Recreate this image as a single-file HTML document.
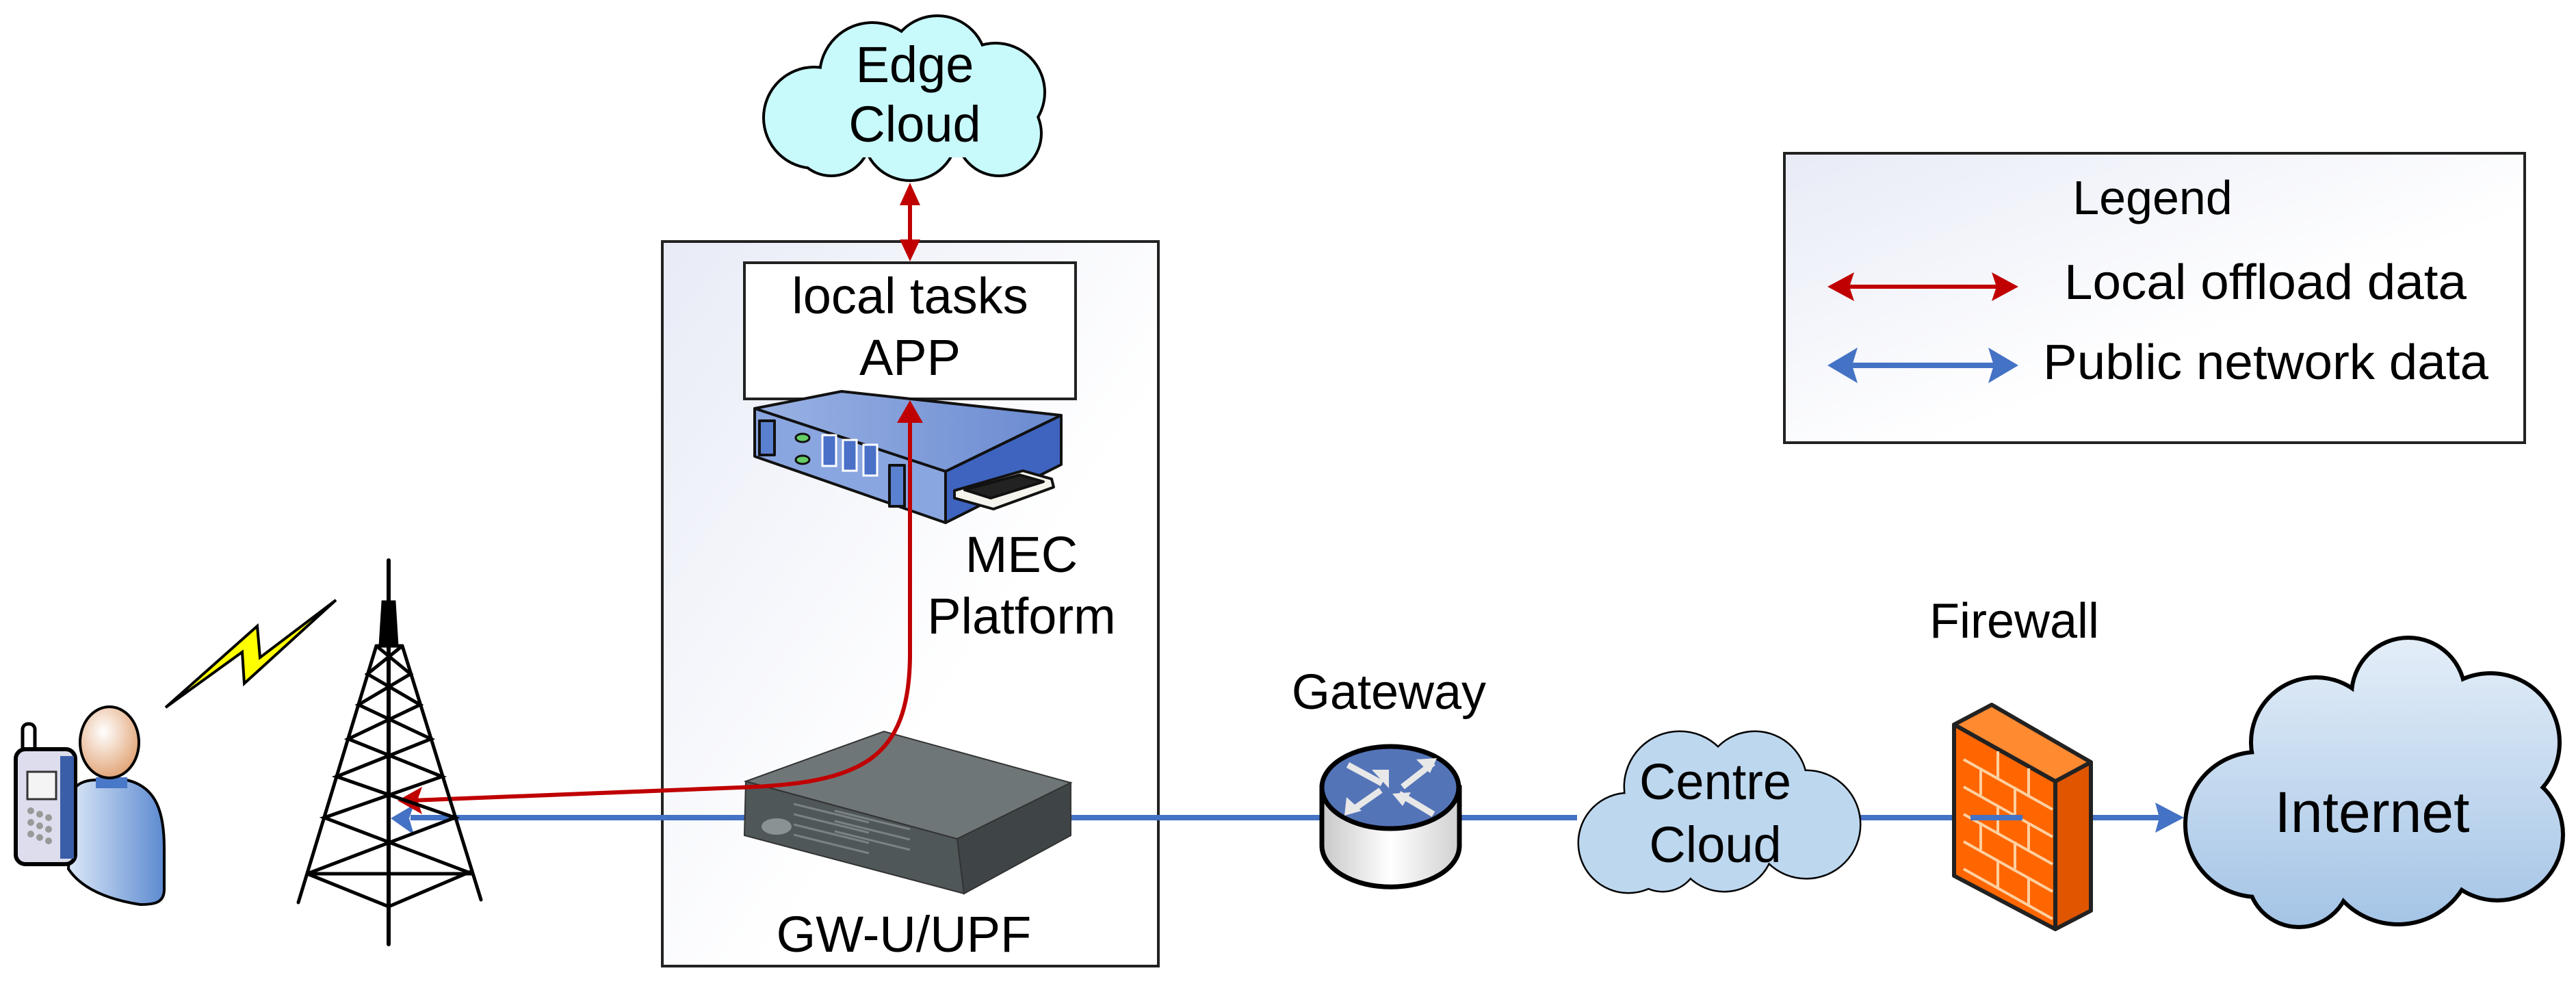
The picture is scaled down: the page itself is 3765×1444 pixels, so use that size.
<!DOCTYPE html>
<html><head><meta charset="utf-8"><style>html,body{margin:0;padding:0;background:#fff}svg{display:block}</style></head>
<body>
<svg width="3765" height="1444" viewBox="0 0 3765 1444" xmlns="http://www.w3.org/2000/svg" font-family="Liberation Sans, Arial, sans-serif">
<defs>
<linearGradient id="bg" x1="0" y1="0" x2="1" y2="1"><stop offset="0" stop-color="#e8ebf6"/><stop offset="0.6" stop-color="#ffffff"/></linearGradient>
<linearGradient id="cyl" x1="0" y1="0" x2="1" y2="0"><stop offset="0" stop-color="#c8c8c8"/><stop offset="0.5" stop-color="#ffffff"/><stop offset="1" stop-color="#d0d0d0"/></linearGradient>
<linearGradient id="inet" gradientUnits="userSpaceOnUse" x1="0" y1="930" x2="0" y2="1354"><stop offset="0" stop-color="#e4eef8"/><stop offset="1" stop-color="#a4c4e6"/></linearGradient>
<linearGradient id="body" x1="0" y1="0" x2="1" y2="0"><stop offset="0" stop-color="#dce8f8"/><stop offset="1" stop-color="#5c8ad0"/></linearGradient>
<radialGradient id="head" cx="0.4" cy="0.35" r="0.7"><stop offset="0" stop-color="#ffffff"/><stop offset="1" stop-color="#e0a070"/></radialGradient>
<linearGradient id="mtop" x1="0" y1="0" x2="1" y2="0"><stop offset="0" stop-color="#9ab2e4"/><stop offset="1" stop-color="#6a8ad0"/></linearGradient>
</defs>

<rect x="968" y="353" width="725" height="1059" fill="url(#bg)" stroke="#222" stroke-width="4"/>
<rect x="2608" y="224" width="1082" height="423" fill="url(#bg)" stroke="#222" stroke-width="4"/>
<text x="3146" y="313" font-size="70" text-anchor="middle">Legend</text>
<line x1="2700" y1="419" x2="2922" y2="419" stroke="#c00000" stroke-width="6"/>
<polygon points="2671,419 2710,398 2703,419 2710,440" fill="#c00000"/>
<polygon points="2950,419 2911,398 2918,419 2911,440" fill="#c00000"/>
<text x="3017" y="437" font-size="72" textLength="588" lengthAdjust="spacingAndGlyphs">Local offload data</text>
<line x1="2700" y1="534" x2="2922" y2="534" stroke="#4472c4" stroke-width="8"/>
<polygon points="2671,534 2715,508 2707,534 2715,560" fill="#4472c4"/>
<polygon points="2950,534 2906,508 2914,534 2906,560" fill="#4472c4"/>
<text x="2986" y="554" font-size="72" textLength="651" lengthAdjust="spacingAndGlyphs">Public network data</text>

<g stroke="#000" stroke-width="8" fill="#c8fafc">
<circle cx="1190" cy="172" r="72"/><circle cx="1275" cy="110" r="75"/><circle cx="1370" cy="95" r="70"/><circle cx="1455" cy="135" r="70"/><circle cx="1460" cy="195" r="60"/><circle cx="1330" cy="195" r="67"/><circle cx="1215" cy="200" r="55"/>
</g>
<g fill="#c8fafc">
<circle cx="1190" cy="172" r="72"/><circle cx="1275" cy="110" r="75"/><circle cx="1370" cy="95" r="70"/><circle cx="1455" cy="135" r="70"/><circle cx="1460" cy="195" r="60"/><circle cx="1330" cy="195" r="67"/><circle cx="1215" cy="200" r="55"/><rect x="1200" y="110" width="260" height="120"/>
</g>
<text x="1337" y="120" font-size="74" text-anchor="middle">Edge</text>
<text x="1337" y="207" font-size="74" text-anchor="middle">Cloud</text>
<line x1="1330" y1="295" x2="1330" y2="355" stroke="#c00000" stroke-width="6"/>
<polygon points="1330,267 1315,300 1345,300" fill="#c00000"/>
<polygon points="1330,382 1315,350 1345,350" fill="#c00000"/>

<rect x="1088" y="384" width="484" height="199" fill="#fff" stroke="#222" stroke-width="4"/>
<text x="1330" y="458" font-size="74" text-anchor="middle">local tasks</text>
<text x="1330" y="548" font-size="74" text-anchor="middle">APP</text>

<g stroke="#111" stroke-width="4" stroke-linejoin="round">
<polygon points="1103,597 1230,572 1551,607 1382,689" fill="url(#mtop)"/>
<polygon points="1103,597 1382,689 1382,764 1103,667" fill="#8aa6e0"/>
<polygon points="1382,689 1551,607 1551,679 1382,764" fill="#3e64c0"/>
<polygon points="1395,717 1495,688 1537,700 1540,712 1452,744 1395,728" fill="#f4f4ec"/>
<polygon points="1410,716 1490,694 1525,704 1448,728" fill="#222"/>
<rect x="1110" y="615" width="22" height="50" fill="#5a80d0"/>
<rect x="1300" y="680" width="22" height="60" fill="#5a80d0"/>
</g>
<g fill="#4a70c8" stroke="#fff" stroke-width="3">
<rect x="1202" y="636" width="20" height="45"/><rect x="1232" y="643" width="20" height="45"/><rect x="1262" y="650" width="20" height="45"/>
</g>
<ellipse cx="1173" cy="640" rx="10" ry="6" fill="#6c6" stroke="#111" stroke-width="3"/>
<ellipse cx="1173" cy="672" rx="10" ry="6" fill="#6c6" stroke="#111" stroke-width="3"/>

<text x="1493" y="836" font-size="74" text-anchor="middle">MEC</text>
<text x="1493" y="926" font-size="74" text-anchor="middle">Platform</text>

<g stroke="#4472c4" stroke-width="8">
<line x1="600" y1="1195" x2="1930" y2="1195"/>
<line x1="2132" y1="1195" x2="2305" y2="1195"/>
<line x1="2715" y1="1195" x2="2956" y2="1195"/>
<line x1="3056" y1="1195" x2="3160" y2="1195"/>
</g>
<polygon points="571,1196 605,1176 598,1196 605,1220" fill="#4472c4"/>
<polygon points="3192,1195 3150,1173 3156,1195 3150,1217" fill="#4472c4"/>

<g stroke="#333" stroke-width="2">
<polygon points="1090,1142 1292,1069 1565,1144 1399,1226" fill="#6f7678"/>
<polygon points="1090,1142 1399,1226 1409,1306 1088,1221" fill="#4f5759"/>
<polygon points="1399,1226 1565,1144 1565,1221 1409,1306" fill="#3f4547"/>
</g>
<g stroke="#7a8284" stroke-width="3">
<line x1="1160" y1="1175" x2="1270" y2="1202"/><line x1="1160" y1="1190" x2="1270" y2="1217"/><line x1="1160" y1="1205" x2="1270" y2="1232"/><line x1="1160" y1="1220" x2="1270" y2="1247"/>
<line x1="1220" y1="1185" x2="1330" y2="1212"/><line x1="1220" y1="1200" x2="1330" y2="1227"/><line x1="1220" y1="1215" x2="1330" y2="1242"/>
</g>
<ellipse cx="1135" cy="1208" rx="22" ry="12" fill="#8a9294"/>

<path d="M1330,605 L1330,960 C1328,1110 1260,1145 1080,1151 L600,1170" fill="none" stroke="#c00000" stroke-width="6"/>
<polygon points="1330,585 1311,618 1349,618" fill="#c00000"/>
<polygon points="581,1170 617,1150 610,1170 617,1190" fill="#c00000"/>

<text x="1321" y="1391" font-size="74" text-anchor="middle">GW-U/UPF</text>

<!-- Tower -->
<g stroke="#000" stroke-width="5" fill="none" stroke-linecap="round">
<line x1="568" y1="819" x2="568" y2="1380" stroke-width="6"/>
<polygon points="560,880 576,880 580,944 556,944" fill="#000"/>
<line x1="550" y1="944" x2="436" y2="1319"/>
<line x1="588" y1="944" x2="703" y2="1315"/>
<polyline points="449,1277 568,1325 690,1273"/>
<line x1="449" y1="1277" x2="690" y2="1277"/>
<polyline points="550,944 600,985 524,1030 630,1080 492,1135 665,1195 449,1277"/>
<polyline points="588,944 537,985 614,1030 509,1080 646,1135 474,1195 690,1277"/>
<line x1="550" y1="944" x2="588" y2="944"/>
</g>

<polygon points="242,1034 376,915 380,961 491,877 357,999 354,953" fill="#ffff00" stroke="#000" stroke-width="4" stroke-linejoin="miter"/>

<path d="M140,1140 L185,1140 C230,1150 240,1190 240,1240 L240,1300 C240,1320 225,1322 205,1322 C160,1315 120,1300 100,1270 L105,1160 C110,1145 125,1140 140,1140 Z" fill="url(#body)" stroke="#000" stroke-width="4"/>
<rect x="140" y="1136" width="46" height="16" fill="#4a78c8"/>
<ellipse cx="160" cy="1085" rx="43" ry="52" fill="url(#head)" stroke="#000" stroke-width="4"/>
<rect x="33" y="1058" width="18" height="45" rx="8" fill="#fff" stroke="#000" stroke-width="5"/>
<rect x="23" y="1095" width="87" height="168" rx="14" fill="#dde" stroke="#000" stroke-width="6"/>
<rect x="88" y="1105" width="20" height="150" fill="#3a5ea8"/>
<rect x="40" y="1128" width="42" height="40" fill="#f4f4f4" stroke="#333" stroke-width="3"/>
<g fill="#999"><circle cx="45" cy="1185" r="5"/><circle cx="58" cy="1190" r="5"/><circle cx="71" cy="1195" r="5"/><circle cx="45" cy="1202" r="5"/><circle cx="58" cy="1207" r="5"/><circle cx="71" cy="1212" r="5"/><circle cx="45" cy="1219" r="5"/><circle cx="58" cy="1224" r="5"/><circle cx="71" cy="1229" r="5"/></g>

<text x="2030" y="1036" font-size="72" text-anchor="middle">Gateway</text>
<path d="M1932,1151 L1932,1236 A100,60 0 0,0 2133,1236 L2133,1151 Z" fill="url(#cyl)" stroke="#000" stroke-width="7"/>
<ellipse cx="2032" cy="1151" rx="100" ry="60" fill="#5474b8" stroke="#000" stroke-width="7"/>
<g stroke="#e8e8e8" stroke-width="9" fill="none">
<line x1="1970" y1="1118" x2="2020" y2="1145"/><line x1="2050" y1="1150" x2="2095" y2="1115"/>
<line x1="1975" y1="1185" x2="2018" y2="1155"/><line x1="2045" y1="1160" x2="2095" y2="1190"/>
</g>
<g fill="#e8e8e8"><polygon points="2030,1152 2005,1125 2030,1125"/><polygon points="2100,1108 2070,1110 2090,1130"/><polygon points="1965,1192 1968,1165 1990,1185"/><polygon points="2035,1160 2062,1158 2050,1178"/></g>

<g stroke="#000" stroke-width="5" fill="#bdd7ee">
<circle cx="2380" cy="1232" r="72"/><circle cx="2455" cy="1150" r="80"/><circle cx="2565" cy="1145" r="75"/><circle cx="2640" cy="1205" r="78"/><circle cx="2520" cy="1230" r="72"/><circle cx="2430" cy="1250" r="52"/>
</g>
<g fill="#bdd7ee">
<circle cx="2380" cy="1232" r="72"/><circle cx="2455" cy="1150" r="80"/><circle cx="2565" cy="1145" r="75"/><circle cx="2640" cy="1205" r="78"/><circle cx="2520" cy="1230" r="72"/><circle cx="2430" cy="1250" r="52"/><rect x="2400" y="1160" width="240" height="90"/>
</g>
<text x="2507" y="1168" font-size="74" text-anchor="middle">Centre</text>
<text x="2507" y="1260" font-size="74" text-anchor="middle">Cloud</text>

<text x="2944" y="932" font-size="72" text-anchor="middle">Firewall</text>
<g stroke="#222" stroke-width="6" stroke-linejoin="round">
<polygon points="2856,1059 2911,1030 3056,1114 3004,1142" fill="#ff8a30"/>
<polygon points="2856,1059 3004,1142 3004,1358 2856,1280" fill="#ff6600"/>
<polygon points="3004,1142 3056,1114 3056,1331 3004,1358" fill="#e05500"/>
</g>
<g stroke="#ffd0a0" stroke-width="4">
<line x1="2870" y1="1110" x2="3000" y2="1183"/>
<line x1="2870" y1="1150" x2="3000" y2="1223"/>
<line x1="2870" y1="1190" x2="3000" y2="1263"/>
<line x1="2870" y1="1230" x2="3000" y2="1303"/>
<line x1="2870" y1="1270" x2="3000" y2="1343"/>
<line x1="2920" y1="1098" x2="2920" y2="1138"/><line x1="2965" y1="1123" x2="2965" y2="1163"/>
<line x1="2895" y1="1122" x2="2895" y2="1162"/><line x1="2945" y1="1150" x2="2945" y2="1190"/>
<line x1="2920" y1="1178" x2="2920" y2="1218"/><line x1="2965" y1="1203" x2="2965" y2="1243"/>
<line x1="2895" y1="1202" x2="2895" y2="1242"/><line x1="2945" y1="1230" x2="2945" y2="1270"/>
<line x1="2920" y1="1258" x2="2920" y2="1298"/><line x1="2965" y1="1283" x2="2965" y2="1323"/>
</g>
<line x1="2880" y1="1195" x2="2956" y2="1195" stroke="#4472c4" stroke-width="8"/>

<g stroke="#000" stroke-width="12" fill="#c8dcf0">
<circle cx="3300" cy="1205" r="103"/><circle cx="3385" cy="1085" r="92"/><circle cx="3520" cy="1015" r="80"/><circle cx="3640" cy="1085" r="98"/><circle cx="3650" cy="1220" r="93"/><circle cx="3505" cy="1240" r="108"/><circle cx="3360" cy="1280" r="72"/>
</g>
<g fill="url(#inet)">
<circle cx="3300" cy="1205" r="103"/><circle cx="3385" cy="1085" r="92"/><circle cx="3520" cy="1015" r="80"/><circle cx="3640" cy="1085" r="98"/><circle cx="3650" cy="1220" r="93"/><circle cx="3505" cy="1240" r="108"/><circle cx="3360" cy="1280" r="72"/><rect x="3330" y="1060" width="320" height="200"/>
</g>
<text x="3467" y="1216" font-size="84" text-anchor="middle">Internet</text>
</svg>
</body></html>
